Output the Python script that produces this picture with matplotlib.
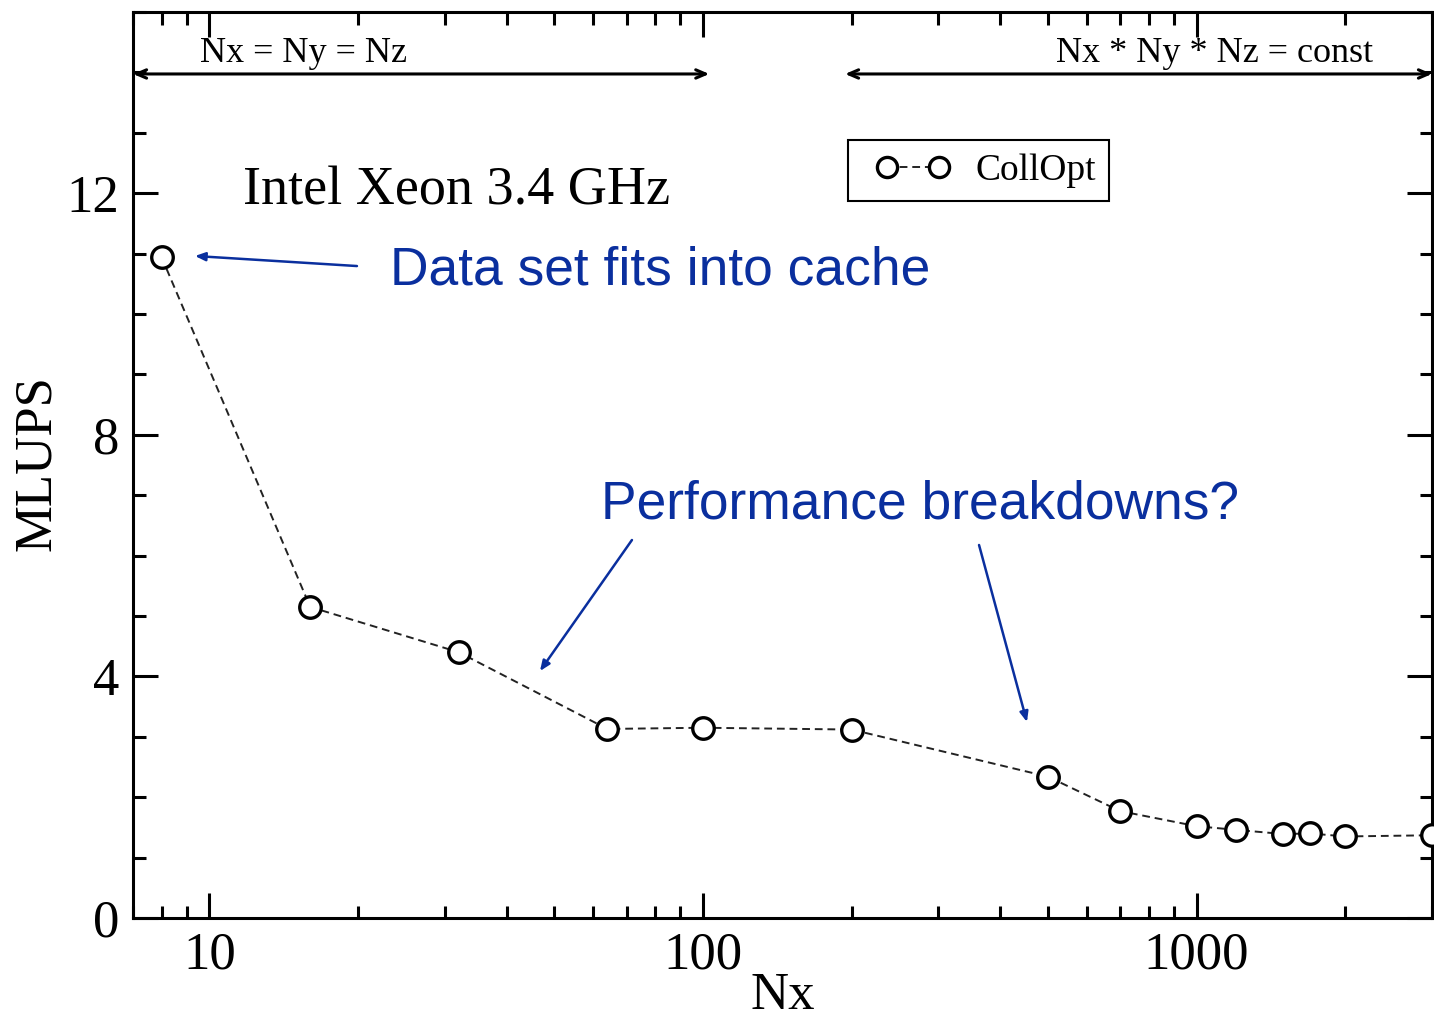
import matplotlib
matplotlib.use("Agg")
import matplotlib.pyplot as plt
from matplotlib.legend_handler import HandlerLine2D
from matplotlib.ticker import LogLocator, FixedLocator, NullFormatter, MultipleLocator

# Lattice size per dimension and measured performance (MLUPS)
nx = [8, 16, 32, 64, 100, 200, 500, 700, 1000, 1200, 1500, 1700, 2000, 3000]
mlups = [10.94, 5.15, 4.40, 3.13, 3.15, 3.12, 2.34, 1.77, 1.52, 1.46, 1.39, 1.40, 1.35, 1.37]

series_label = "CollOpt"
title_text = "Intel Xeon 3.4 GHz"
note_cache = "Data set fits into cache"
note_breakdown = "Performance breakdowns?"
cube_label = "Nx = Ny = Nz"
const_label = "Nx * Ny * Nz = const"
x_label = "Nx"
y_label = "MLUPS"
y_ticks = [0, 4, 8, 12]
x_ticks = [10, 100, 1000]

SERIF = ["Liberation Serif", "DejaVu Serif"]
SANS = ["Liberation Sans", "DejaVu Sans"]
BLUE = "#0a2f9e"

plt.rcParams["font.family"] = SERIF

fig = plt.figure(figsize=(14.34, 10.21), dpi=100)
ax = fig.add_axes([133 / 1434, 103 / 1021, 1299 / 1434, 906 / 1021])

line, = ax.plot(nx, mlups, linestyle=(0, (4, 2.5)), color="#222222", linewidth=1.4,
                marker="o", markersize=15.5, markerfacecolor="white",
                markeredgecolor="black", markeredgewidth=2.4, label=series_label,
                clip_on=False, zorder=3)

ax.set_xscale("log")
ax.set_xlim(7, 3000)
ax.set_ylim(0, 15)

ax.xaxis.set_major_locator(FixedLocator(x_ticks))
ax.set_xticklabels([str(t) for t in x_ticks])
ax.xaxis.set_minor_locator(LogLocator(base=10, subs=range(2, 10), numticks=20))
ax.xaxis.set_minor_formatter(NullFormatter())
ax.yaxis.set_major_locator(FixedLocator(y_ticks))
ax.yaxis.set_minor_locator(MultipleLocator(1))

for s in ax.spines.values():
    s.set_linewidth(2.2)

ax.tick_params(which="both", direction="in", top=True, right=True, width=2.2)
ax.tick_params(which="major", length=18, labelsize=38)
ax.tick_params(axis="x", which="major", pad=10)
ax.tick_params(axis="y", which="major", pad=10)
ax.tick_params(which="minor", length=9)

ax.set_xlabel(x_label, fontsize=38)
ax.xaxis.set_label_coords((783 - 133) / 1299, (918 - 1020) / 906)
ax.xaxis.label.set_va("bottom")
ax.set_ylabel(y_label, fontsize=38)
ax.yaxis.set_label_coords((37 - 133) / 1299, (918 - 463) / 906)
ax.yaxis.label.set_va("center")

# Title-like label inside the plot
ax.text(0.0847, 0.787, title_text, transform=ax.transAxes, fontsize=39,
        va="baseline", ha="left")

# Regime labels with double arrows along the top
blend = ax.get_xaxis_transform()
ax.annotate("", xy=(7, 0.9316), xytext=(103, 0.9316), xycoords=blend, textcoords=blend,
            arrowprops=dict(arrowstyle="<->,head_length=0.7,head_width=0.3",
                            color="black", lw=2.2, shrinkA=0, shrinkB=0))
ax.annotate("", xy=(194, 0.9316), xytext=(3000, 0.9316), xycoords=blend, textcoords=blend,
            arrowprops=dict(arrowstyle="<->,head_length=0.7,head_width=0.3",
                            color="black", lw=2.2, shrinkA=0, shrinkB=0),
            annotation_clip=False)
ax.text(0.0516, 0.9448, cube_label, transform=ax.transAxes, fontsize=26,
        va="baseline", ha="left")
ax.text(0.9546, 0.9448, const_label, transform=ax.transAxes, fontsize=26,
        va="baseline", ha="right")

# Blue explanatory notes
ax.text(0.1978, 0.6987, note_cache, transform=ax.transAxes, fontsize=38.4,
        family=SANS, color=BLUE, va="baseline", ha="left")
ax.text(0.3603, 0.4415, note_breakdown, transform=ax.transAxes, fontsize=38.4,
        family=SANS, color=BLUE, va="baseline", ha="left")

arrow_kw = dict(arrowstyle="-|>,head_length=0.6,head_width=0.25", color=BLUE,
                lw=1.8, shrinkA=0, shrinkB=0)
ax.annotate("", xy=(0.0477, 0.7307), xytext=(0.1724, 0.7196), xycoords="axes fraction",
            textcoords="axes fraction", arrowprops=arrow_kw)
ax.annotate("", xy=(0.3133, 0.2726), xytext=(0.3841, 0.4172), xycoords="axes fraction",
            textcoords="axes fraction", arrowprops=arrow_kw)
ax.annotate("", xy=(0.6882, 0.2163), xytext=(0.6513, 0.4117), xycoords="axes fraction",
            textcoords="axes fraction", arrowprops=arrow_kw)

leg = ax.legend(loc="upper left", bbox_to_anchor=(0.5504, 0.8587), fontsize=27,
                numpoints=2, handlelength=2.75, handletextpad=0.3, borderpad=0.35,
                borderaxespad=0, fancybox=False, framealpha=1, edgecolor="black",
                handler_map={line: HandlerLine2D(marker_pad=0.68, numpoints=2)})
leg.get_frame().set_linewidth(1.5)
for h in leg.legend_handles:
    h.set_markersize(14.5)
    h.set_markeredgewidth(2.4)

fig.savefig("out.png", dpi=100)
